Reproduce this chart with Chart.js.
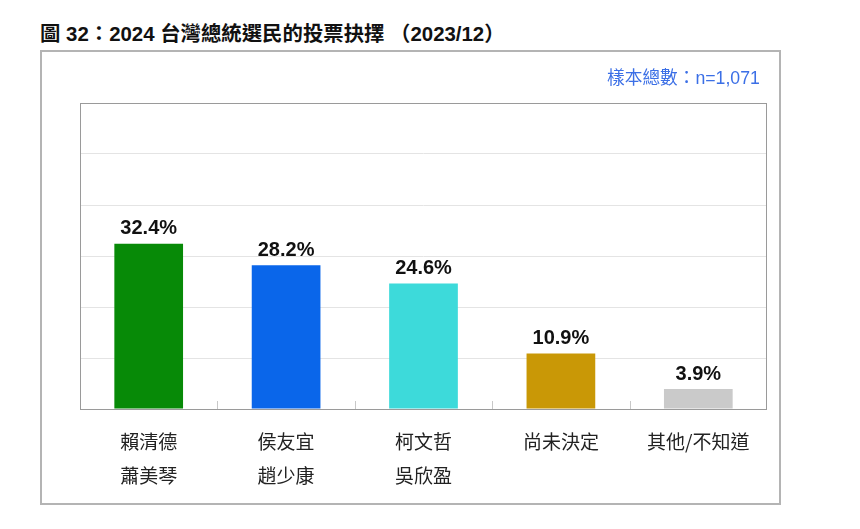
<!DOCTYPE html>
<html>
<head>
<meta charset="utf-8">
<script src="https://cdn.jsdelivr.net/npm/chart.js@4/dist/chart.umd.min.js"></script>
<style>
    body { margin: 0; background: #fff; width: 860px; height: 529px; position: relative; overflow: hidden;
           font-family: "Liberation Sans", "Noto Sans CJK TC", sans-serif; }
    #title { position: absolute; left: 40px; top: 17px; font-size: 20.4px; font-weight: bold; color: #111; white-space: nowrap; }
    #box { position: absolute; left: 40px; top: 50px; width: 737px; height: 451px; border: 2px solid #b4b4b4; }
    #sample { position: absolute; left: 607px; top: 63px; font-size: 17.7px; color: #3b6fe6; white-space: nowrap; }
    #wrap { position: absolute; left: 40px; top: 50px; width: 739px; height: 451px; }
</style>
</head>
<body>
<div id="title">圖 32：2024 台灣總統選民的投票抉擇 （2023/12）</div>
<div id="box"></div>
<div id="wrap"><canvas id="voteChart"></canvas></div>
<div id="sample">樣本總數：n=1,071</div>
<script>
// データ
const categories = [['賴清德', '蕭美琴'], ['侯友宜', '趙少康'], ['柯文哲', '吳欣盈'], ['尚未決定'], ['其他/不知道']];
const shares = [32.4, 28.2, 24.6, 10.9, 3.9];
const barColors = ['#078a07', '#0a66ea', '#3ddada', '#c99806', '#cacaca'];

// 枠線・目盛り・数値ラベル
const framePlugin = {
    id: 'frame',
    afterDatasetsDraw(chart) {
        const { ctx, chartArea: a, scales: { x } } = chart;
        ctx.save();
        ctx.strokeStyle = '#9a9a9a';
        ctx.lineWidth = 1;
        ctx.strokeRect(a.left + 0.5, a.top + 0.5, a.right - a.left - 1, a.bottom - a.top);
        ctx.strokeStyle = '#c8c8c8';
        for (let i = 1; i < categories.length; i++) {
            const px = Math.round((x.getPixelForTick(i - 1) + x.getPixelForTick(i)) / 2) + 0.5;
            ctx.beginPath();
            ctx.moveTo(px, a.bottom);
            ctx.lineTo(px, a.bottom - 8);
            ctx.stroke();
        }
        ctx.fillStyle = '#111';
        ctx.font = "bold 20px 'Liberation Sans Narrow', 'Liberation Sans', sans-serif";
        ctx.textAlign = 'center';
        ctx.textBaseline = 'middle';
        chart.getDatasetMeta(0).data.forEach((bar, i) => {
            ctx.fillText(shares[i].toFixed(1) + '%', bar.x, bar.y - 15);
        });
        ctx.restore();
    }
};

new Chart(document.getElementById('voteChart'), {
    type: 'bar',
    data: {
        labels: categories,
        datasets: [{
            data: shares,
            backgroundColor: barColors,
            borderWidth: 0,
            barPercentage: 0.5,
            categoryPercentage: 1
        }]
    },
    options: {
        responsive: true,
        maintainAspectRatio: false,
        animation: false,
        layout: { padding: { left: 40, top: 53, right: 12, bottom: 0 } },
        plugins: { legend: { display: false }, tooltip: { enabled: false } },
        scales: {
            x: {
                grid: { display: false },
                border: { display: false },
                ticks: {
                    color: '#222',
                    padding: 8,
                    font: { family: "'Noto Sans CJK TC', sans-serif", size: 19, lineHeight: 34 / 19 }
                }
            },
            y: {
                min: 0,
                max: 60,
                ticks: { stepSize: 10, display: false },
                grid: { color: '#e4e4e4', drawTicks: false },
                border: { display: false }
            }
        }
    },
    plugins: [framePlugin]
});
</script>
</body>
</html>
